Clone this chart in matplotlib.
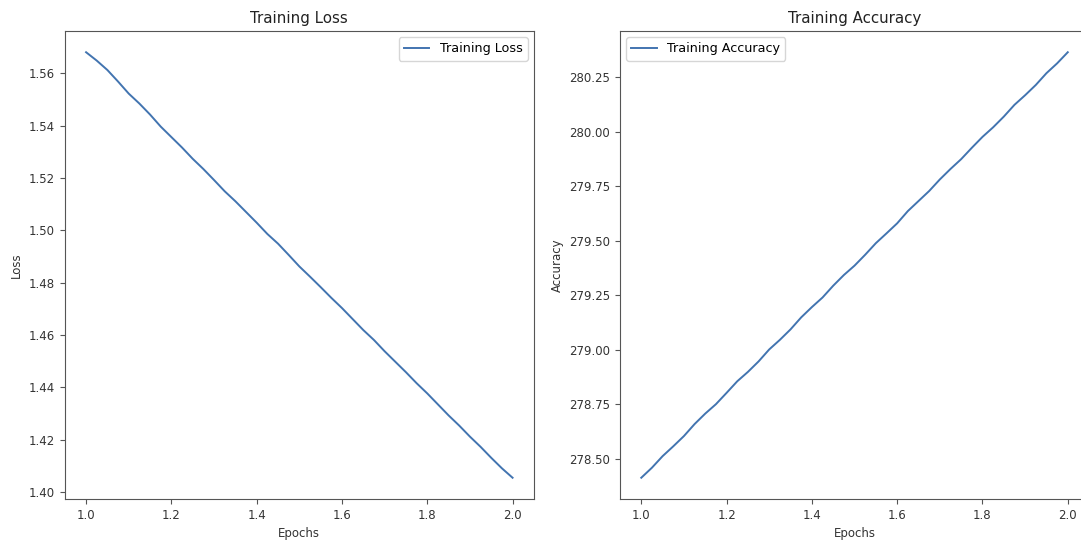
import matplotlib
matplotlib.use("Agg")
import matplotlib.pyplot as plt

# Epoch positions of the logged training steps
epochs = [1.0 + 0.025 * i for i in range(41)]

train_loss = [
    1.5680, 1.5648, 1.5612, 1.5568, 1.5522, 1.5484, 1.5442, 1.5396, 1.5356, 1.5316,
    1.5273, 1.5234, 1.5192, 1.5149, 1.5111, 1.5070, 1.5029, 1.4986, 1.4949, 1.4906,
    1.4862, 1.4823, 1.4783, 1.4742, 1.4703, 1.4661, 1.4619, 1.4581, 1.4538, 1.4498,
    1.4458, 1.4416, 1.4377, 1.4335, 1.4293, 1.4254, 1.4212, 1.4173, 1.4131, 1.4091,
    1.4055,
]

train_acc = [
    278.414, 278.460, 278.513, 278.558, 278.605, 278.660, 278.708, 278.751, 278.803, 278.856,
    278.899, 278.947, 279.002, 279.046, 279.094, 279.149, 279.196, 279.240, 279.294, 279.343,
    279.386, 279.436, 279.489, 279.534, 279.580, 279.636, 279.682, 279.728, 279.781, 279.829,
    279.874, 279.926, 279.976, 280.020, 280.069, 280.123, 280.167, 280.214, 280.268, 280.313,
    280.364,
]

line_color = "#4274b0"
fs_tick = 8.5
fs_legend = 9.2
fs_title = 10.8

fig = plt.figure(figsize=(10.81, 5.43), dpi=100)
# the second panel runs past the right edge of the canvas
ax1 = fig.add_axes([0.0599, 0.081, 0.434, 0.862])
ax2 = fig.add_axes([0.5735, 0.081, 0.434, 0.862])

ax1.plot(epochs, train_loss, color=line_color, lw=1.4, label="Training Loss")
ax1.set_title("Training Loss", fontsize=fs_title, color="#222222")
ax1.set_xlabel("Epochs", fontsize=fs_tick, color="#333333")
ax1.set_ylabel("Loss", fontsize=fs_tick, color="#333333")
ax1.legend(loc="upper right", fontsize=fs_legend)

ax2.plot(epochs, train_acc, color=line_color, lw=1.4, label="Training Accuracy")
ax2.set_title("Training Accuracy", fontsize=fs_title, color="#222222")
ax2.set_xlabel("Epochs", fontsize=fs_tick, color="#333333")
ax2.set_ylabel("Accuracy", fontsize=fs_tick, color="#333333")
ax2.legend(loc="upper left", fontsize=fs_legend)

for ax in (ax1, ax2):
    for s in ax.spines.values():
        s.set_color("#555555")
    ax.tick_params(colors="#555555", labelcolor="#333333", labelsize=fs_tick)

fig.savefig("out.png", dpi=100)
